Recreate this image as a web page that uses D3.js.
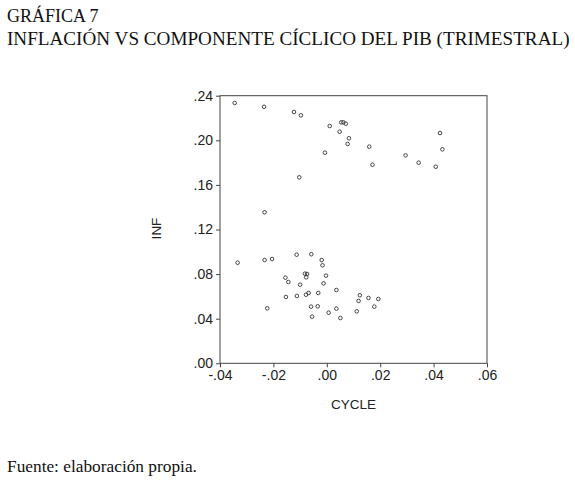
<!DOCTYPE html>
<html>
<head>
<meta charset="utf-8">
<script src="https://d3js.org/d3.v7.min.js"></script>
<style>
	body { margin: 0; background: #fff; }
	svg { display: block; }
</style>
</head>
<body>
<div id="chart"></div>
<script>
// INF vs CYCLE
var cycle = [
	-0.0345, -0.0235, -0.0123, -0.0097, 0.0011, 0.0054, 0.0062, 0.0071,
	0.0048, 0.0083, 0.0078, -0.0007, 0.0159, 0.0171, 0.0295, 0.0344,
	0.0408, 0.0424, 0.0433, -0.0103, -0.0233,
	-0.0334, -0.0233, -0.0205, -0.0223, -0.0113, -0.0058, -0.0019, -0.0016,
	-0.0155, -0.0144, -0.0100, -0.0082, -0.0074, -0.0077, -0.0003, -0.0012,
	-0.0153, -0.0112, -0.0078, -0.0068, -0.0032, 0.0036, -0.0059, -0.0034,
	-0.0055, 0.0007, 0.0036, 0.0051, 0.0112, 0.0124, 0.0119, 0.0156,
	0.0178, 0.0193
];
var inf = [
	0.2335, 0.2300, 0.2254, 0.2224, 0.2128, 0.2161, 0.2161, 0.2149,
	0.2077, 0.2018, 0.1967, 0.1889, 0.1943, 0.1781, 0.1865, 0.1799,
	0.1763, 0.2065, 0.1919, 0.1668, 0.1354,
	0.0902, 0.0926, 0.0935, 0.0493, 0.0974, 0.0978, 0.0926, 0.0879,
	0.0768, 0.0729, 0.0705, 0.0804, 0.0801, 0.0771, 0.0786, 0.0717,
	0.0595, 0.0604, 0.0615, 0.0631, 0.0631, 0.0657, 0.0508, 0.0511,
	0.0418, 0.0454, 0.0490, 0.0406, 0.0466, 0.0610, 0.0559, 0.0586,
	0.0508, 0.0577
];
var xTicks = [-0.04, -0.02, 0.00, 0.02, 0.04, 0.06];
var yTicks = [0.00, 0.04, 0.08, 0.12, 0.16, 0.20, 0.24];

var W = 575, H = 482;
var box = { left: 220, top: 95.7, right: 487, bottom: 363.3 };

var svg = d3.select("#chart")
	.append("svg")
	.attr("width", W)
	.attr("height", H);

var serif = "'Liberation Serif', 'Times New Roman', serif";
var sans = "'Liberation Sans', Arial, sans-serif";

svg.append("text")
	.attr("x", 7).attr("y", 22)
	.attr("font-family", serif).attr("font-size", 18)
	.attr("fill", "#111")
	.text("GRÁFICA 7");
var t2 = svg.append("text")
	.attr("x", 7).attr("y", 45)
	.attr("font-family", serif).attr("font-size", 18)
	.attr("fill", "#111")
	.text("INFLACIÓN VS COMPONENTE CÍCLICO DEL PIB (TRIMESTRAL)");

var foot = svg.append("text")
	.attr("x", 7).attr("y", 472)
	.attr("font-family", serif).attr("font-size", 15)
	.attr("fill", "#111")
	.text("Fuente: elaboración propia.");

var x = d3.scaleLinear().domain([-0.04, 0.06]).range([box.left, box.right]);
var y = d3.scaleLinear().domain([0, 0.24]).range([box.bottom, box.top]);

var fmt = function(d) {
	var s = d3.format(".2f")(Math.abs(d)).replace(/^0/, "");
	return (d < -1e-9 ? "-" : "") + s;
};

var xAxis = svg.append("g")
	.attr("transform", "translate(0," + box.bottom + ")")
	.call(d3.axisBottom(x).tickValues(xTicks).tickFormat(fmt).tickSize(4).tickPadding(3));
var yAxis = svg.append("g")
	.attr("transform", "translate(" + box.left + ",0)")
	.call(d3.axisLeft(y).tickValues(yTicks).tickFormat(fmt).tickSize(4).tickPadding(3));

[xAxis, yAxis].forEach(function(g) {
	g.select(".domain").remove();
	g.selectAll("line").attr("stroke", "#444");
	g.selectAll("text")
		.attr("font-family", sans)
		.attr("font-size", 14)
		.attr("fill", "#222");
});

svg.append("rect")
	.attr("x", box.left).attr("y", box.top)
	.attr("width", box.right - box.left)
	.attr("height", box.bottom - box.top)
	.attr("fill", "none")
	.attr("stroke", "#444")
	.attr("stroke-width", 1);

svg.append("text")
	.attr("x", (box.left + box.right) / 2).attr("y", 409)
	.attr("text-anchor", "middle")
	.attr("font-family", sans).attr("font-size", 13.5)
	.attr("fill", "#222")
	.text("CYCLE");
svg.append("text")
	.attr("transform", "translate(161," + ((box.top + box.bottom) / 2 - 1) + ") rotate(-90)")
	.attr("text-anchor", "middle")
	.attr("font-family", sans).attr("font-size", 13.5)
	.attr("fill", "#222")
	.text("INF");

svg.append("g")
	.selectAll("circle")
	.data(d3.zip(cycle, inf))
	.enter()
	.append("circle")
	.attr("cx", function(d) { return x(d[0]); })
	.attr("cy", function(d) { return y(d[1]); })
	.attr("r", 1.8)
	.attr("fill", "none")
	.attr("stroke", "#333")
	.attr("stroke-width", 0.9);

// stretch text lines to the widths they have in the picture
function fit(sel, size, width) {
	var len = sel.node().getComputedTextLength();
	sel.attr("font-size", size * width / len);
}
fit(t2, 18, 563);
fit(foot, 15, 190);
</script>
</body>
</html>
